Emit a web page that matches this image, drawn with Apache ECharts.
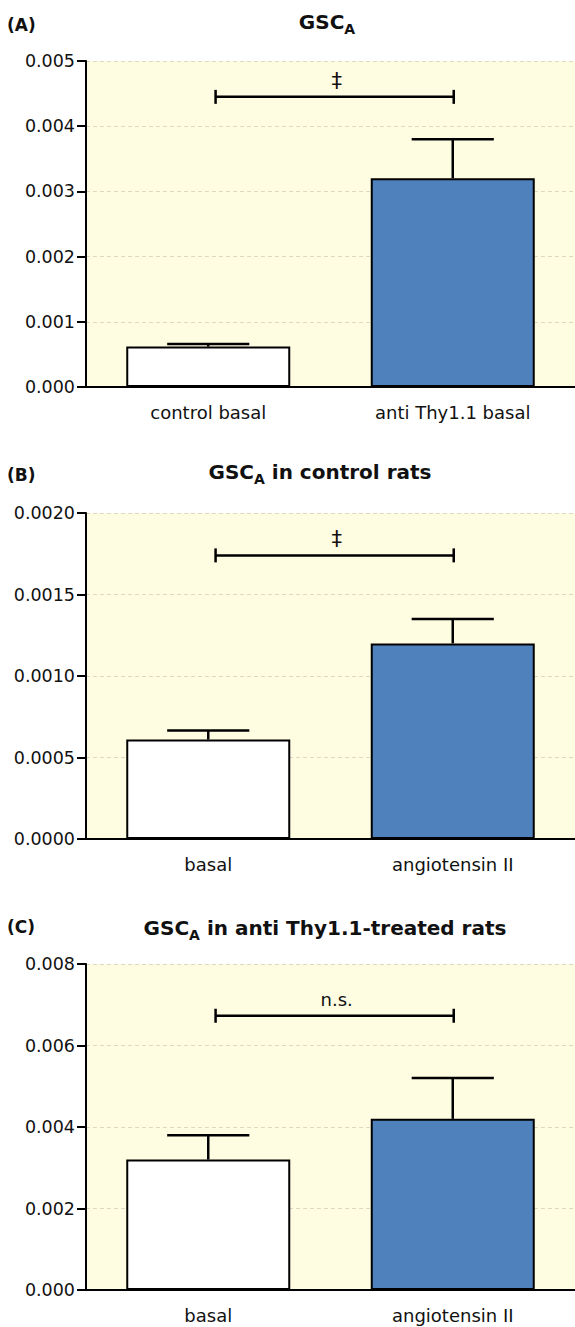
<!DOCTYPE html>
<html>
<head>
<meta charset="utf-8">
<script src="https://cdn.jsdelivr.net/npm/echarts@6/dist/echarts.min.js"></script>
<style>
html,body{margin:0;padding:0;background:#fff;}
#chart{width:575px;height:1327px;}
</style>
</head>
<body>
<div id="chart"></div>
<script>
// ---- Panel A ----
const panelACategories = ['control basal', 'anti Thy1.1 basal'];
const panelAMeans = [0.00062, 0.0032];
const panelAErrTops = [0.00066, 0.0038];
const panelABracketY = 0.00445;
const panelASig = '\u2021';
const panelAYAxis = [0, 0.005, 0.001]; // min, max, interval
const panelADecimals = 3;

// ---- Panel B ----
const panelBCategories = ['basal', 'angiotensin II'];
const panelBMeans = [0.00061, 0.0012];
const panelBErrTops = [0.000665, 0.00135];
const panelBBracketY = 0.00174;
const panelBSig = '\u2021';
const panelBYAxis = [0, 0.002, 0.0005];
const panelBDecimals = 4;

// ---- Panel C ----
const panelCCategories = ['basal', 'angiotensin II'];
const panelCMeans = [0.0032, 0.0042];
const panelCErrTops = [0.0038, 0.0052];
const panelCBracketY = 0.00673;
const panelCSig = 'n.s.';
const panelCYAxis = [0, 0.008, 0.002];
const panelCDecimals = 3;

const panelLetters = ['(A)', '(B)', '(C)'];
const panelTitleRest = ['', ' in control rats', ' in anti Thy1.1-treated rats'];
const barColors = ['#ffffff', '#4f81bd'];

const FONT = 'DejaVu Sans';

const panels = [
  {cats: panelACategories, means: panelAMeans, errs: panelAErrTops, br: panelABracketY, sig: panelASig, y: panelAYAxis, dec: panelADecimals},
  {cats: panelBCategories, means: panelBMeans, errs: panelBErrTops, br: panelBBracketY, sig: panelBSig, y: panelBYAxis, dec: panelBDecimals},
  {cats: panelCCategories, means: panelCMeans, errs: panelCErrTops, br: panelCBracketY, sig: panelCSig, y: panelCYAxis, dec: panelCDecimals}
];

// layout (pixels)
const gridTops = [61, 513, 964];
const gridHeight = 326;
const titleTops = [8, 458, 914];
const titleCenters = [327, 320, 325];
const letterTops = [15, 465, 917];

function renderErr(params, api) {
  const p0 = api.coord([api.value(0), api.value(1)]);
  const p1 = api.coord([api.value(0), api.value(2)]);
  const half = api.size([1, 0])[0] * 0.168;
  const st = {stroke: '#000', lineWidth: 2.5};
  return {type: 'group', children: [
    {type: 'line', shape: {x1: p0[0], y1: p0[1], x2: p1[0], y2: p1[1]}, style: st},
    {type: 'line', shape: {x1: p1[0] - half, y1: p1[1], x2: p1[0] + half, y2: p1[1]}, style: st}
  ]};
}

function makeBracket(label) {
  const fs = label === 'n.s.' ? 18 : 21;
  return function (params, api) {
    const pl = api.coord([api.value(0), api.value(2)]);
    const pr = api.coord([api.value(1), api.value(2)]);
    const band = api.size([1, 0])[0];
    const xl = pl[0] + band * 0.03;
    const xr = pr[0] + band * 0.004;
    const y = pl[1];
    const mid = (xl + xr) / 2 + 2;
    const st = {stroke: '#000', lineWidth: 2.5};
    return {type: 'group', children: [
      {type: 'line', shape: {x1: xl, y1: y, x2: xr, y2: y}, style: st},
      {type: 'line', shape: {x1: xl, y1: y - 7, x2: xl, y2: y + 7}, style: st},
      {type: 'line', shape: {x1: xr, y1: y - 7, x2: xr, y2: y + 7}, style: st},
      {type: 'text', style: {text: label, x: mid, y: y - 16, align: 'center', verticalAlign: 'middle',
        fontSize: fs, fontFamily: FONT, fill: '#111'}}
    ]};
  };
}

const option = {
  animation: false,
  backgroundColor: '#ffffff',
  title: [],
  grid: [],
  xAxis: [],
  yAxis: [],
  series: []
};

panels.forEach(function (p, i) {
  option.title.push({
    text: '{b|GSC}{s|A}{b|' + panelTitleRest[i] + '}',
    left: titleCenters[i], top: titleTops[i], textAlign: 'center', padding: 0,
    textStyle: {
      rich: {
        b: {fontFamily: FONT, fontWeight: 'bold', fontSize: 20, color: '#111', lineHeight: 28},
        s: {fontFamily: FONT, fontWeight: 'bold', fontSize: 14, color: '#111', lineHeight: 8, verticalAlign: 'bottom'}
      }
    }
  });
  option.title.push({
    text: panelLetters[i], left: 7, top: letterTops[i], padding: 0,
    textStyle: {fontFamily: FONT, fontWeight: 'bold', fontSize: 17, color: '#111', lineHeight: 20}
  });
  option.grid.push({
    left: 86, right: 0, top: gridTops[i], height: gridHeight,
    show: true, backgroundColor: '#fffde1', borderWidth: 0
  });
  option.xAxis.push({
    type: 'category', gridIndex: i, data: p.cats,
    axisLine: {lineStyle: {color: '#000', width: 2}},
    axisTick: {show: false},
    axisLabel: {fontFamily: FONT, fontSize: 18, color: '#111', margin: 16},
    splitLine: {show: false}
  });
  const dec = p.dec;
  option.yAxis.push({
    type: 'value', gridIndex: i, min: p.y[0], max: p.y[1], interval: p.y[2],
    axisLine: {show: true, lineStyle: {color: '#000', width: 2}},
    axisTick: {show: true, length: 9, lineStyle: {color: '#000', width: 2}},
    axisLabel: {fontFamily: FONT, fontSize: 17.5, color: '#111', margin: 11,
      formatter: function (v) { return v.toFixed(dec); }},
    splitLine: {show: true, lineStyle: {color: '#dcd8c2', width: 1, type: [4, 3]}}
  });
  option.series.push({
    type: 'bar', xAxisIndex: i, yAxisIndex: i, barWidth: 164,
    data: p.means.map(function (v, k) {
      return {value: v, itemStyle: {color: barColors[k], borderColor: '#000', borderWidth: 2}};
    }),
    z: 2
  });
  option.series.push({
    type: 'custom', xAxisIndex: i, yAxisIndex: i, renderItem: renderErr, z: 3,
    encode: {x: 0, y: [1, 2]},
    data: p.means.map(function (v, k) { return [k, v, p.errs[k]]; })
  });
  option.series.push({
    type: 'custom', xAxisIndex: i, yAxisIndex: i, renderItem: makeBracket(p.sig), z: 3,
    encode: {x: [0, 1], y: 2},
    data: [[0, 1, p.br]]
  });
});

const chart = echarts.init(document.getElementById('chart'), null, {renderer: 'svg'});
chart.setOption(option);
</script>
</body>
</html>
